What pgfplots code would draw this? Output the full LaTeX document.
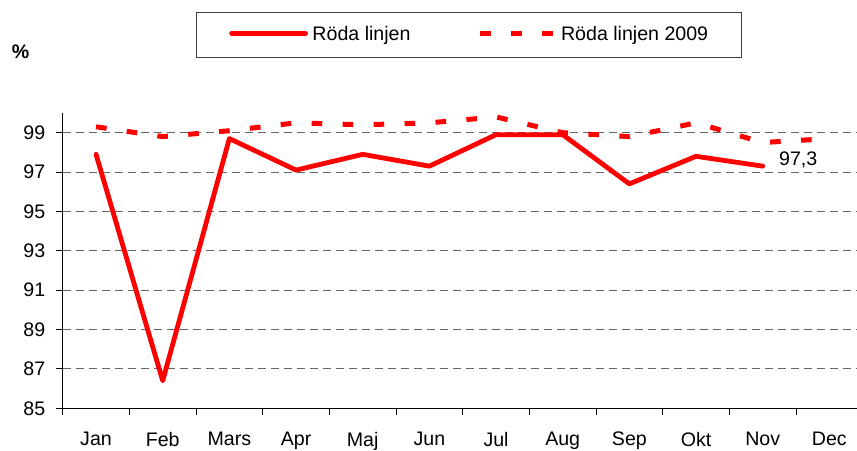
\documentclass[border=0pt]{standalone}
\usepackage{fontspec}
\setmainfont{Liberation Sans}
\usepackage{pgfplots}
\pgfplotsset{compat=1.18}
\begin{document}
\fontsize{9.8pt}{11.76pt}\selectfont
\begin{tikzpicture}
\path[use as bounding box] (0,0) rectangle (428.5pt,225pt);
\begin{axis}[
  at={(31.35pt,20.85pt)}, anchor=south west,
  scale only axis, width=400pt, height=147.65pt,
  xmin=-0.5, xmax=11.5, ymin=85, ymax=100,
  axis x line=bottom, axis y line=left,
  axis line style={-, line width=0.5pt, black},
  xtick={-0.5,0.5,...,11.5}, xticklabels={},
  extra x ticks={0,1,...,11},
  extra x tick labels={Jan,Feb,Mars,Apr,Maj,Jun,Jul,Aug,Sep,Okt,Nov,Dec},
  extra x tick style={tick style={draw=none}},
  ytick={85,87,...,99},
  tick align=outside, major tick length=3.3pt,
  tick style={black, line width=0.5pt},
  ymajorgrids,
  grid style={black!60, line width=0.5pt, dash pattern=on 4pt off 2.5pt},
  /pgf/number format/assume math mode=true,
  xticklabel style={anchor=north, inner sep=0pt, yshift=-8.4pt},
  yticklabel style={anchor=east, inner sep=0pt, xshift=-5.2pt},
  legend columns=2,
  legend cell align=left,
  legend style={at={(0.16625,1.342)}, anchor=north west, draw=black!75, line width=0.5pt,
    inner xsep=16.5pt, inner ysep=6.75pt,
    nodes={inner sep=0pt, text height=7pt, text depth=2pt},
    column sep=2.25pt,
    /tikz/every even column/.append style={column sep=33.5pt}},
  legend image code/.code={\draw[#1] (0pt,0.8pt) -- (37pt,0.8pt);},
]
\addplot[red, line width=2.4pt, line join=round, line cap=round] coordinates {
  (0,97.9) (1,86.4) (2,98.7) (3,97.1) (4,97.9) (5,97.3)
  (6,98.9) (7,98.9) (8,96.4) (9,97.8) (10,97.3)
};
\addlegendentry{Röda linjen}
\addplot[red, line width=2.5pt, dash pattern=on 5.33pt off 10.17pt] coordinates {
  (0,99.3) (1,98.8) (2,99.1) (3,99.5) (4,99.4) (5,99.5)
  (6,99.8) (7,99.0) (8,98.8) (9,99.5) (10,98.5) (11,98.7)
};
\addlegendentry{Röda linjen 2009}
\node[anchor=base west, inner sep=0pt, xshift=8pt, yshift=0.5pt] at (axis cs:10,97.3) {97,3};
\end{axis}
\node[font=\bfseries, inner sep=0pt] at (10.25pt,199pt) {\%};
\end{tikzpicture}
\end{document}
